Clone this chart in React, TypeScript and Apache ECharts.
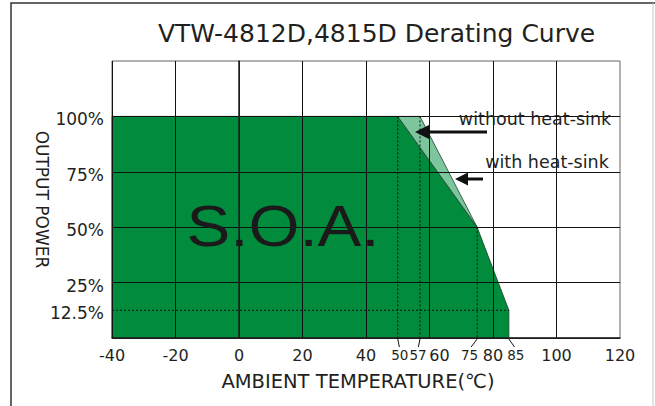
import React, { useEffect, useRef } from "react";
import * as echarts from "echarts";

// ---- data ----
const chartTitle = "VTW-4812D,4815D Derating Curve";
const xName = "AMBIENT TEMPERATURE(℃)";
const yName = "OUTPUT POWER";
const yTickValues = [12.5, 25, 50, 75, 100];
// safe operating area outline (without heat-sink)
const soaTemp = [-40, 50, 75, 85, 85, -40];
const soaPower = [100, 100, 50, 12.5, 0, 0];
// extra area with heat-sink
const sinkTemp = [50, 57, 75];
const sinkPower = [100, 100, 50];
// dotted guide lines
const guideTemps = [50, 57, 75];
const guideTops = [100, 100, 50];
const ratedLevel = 12.5;
const ratedEnd = 85;
// extra (small) x labels
const extraTicks = [50, 57, 75, 85];
const extraShift = [2, -2, -7.5, 7];

const FONT = "DejaVu Sans";
const AFONT = "Liberation Sans";
const INK = "#231f20";
const DARK = "#008c3c";
const LIGHT = "#7cc59d";

export default function App() {
  const ref = useRef<HTMLDivElement>(null);
  useEffect(() => {
    if (!ref.current) return;
    const chart = echarts.init(ref.current, null, { renderer: "svg" });
    const option: any = {
      animation: false,
      title: {
        text: chartTitle,
        left: 153,
        top: 16,
        textStyle: { fontFamily: FONT, fontSize: 25, fontWeight: "normal", color: INK },
      },
      grid: {
        left: 112, top: 61, width: 508, height: 277,
        show: true, borderColor: "#666", borderWidth: 1, backgroundColor: "transparent",
      },
      xAxis: {
        type: "value", min: -40, max: 120, interval: 20, z: 3,
        name: xName, nameLocation: "middle", nameGap: 33, nameMoveOverlap: false,
        nameTextStyle: { fontFamily: FONT, fontSize: 19.5, color: INK, padding: [0, 16, 0, 0] },
        axisLine: { show: true, onZero: false, lineStyle: { color: "#222", width: 1.5 } },
        axisTick: { show: false },
        axisLabel: {
          margin: 9, fontFamily: FONT, fontSize: 16, color: INK,
          formatter: (v: number) => (v === 60 ? "{s|60}" : String(v)),
          rich: { s: { padding: [0, 0, 0, 20], fontFamily: FONT, fontSize: 16, color: INK } },
        },
        splitLine: { show: true, showMaxLine: false, lineStyle: { color: "#111", width: 1 } },
      },
      yAxis: {
        type: "value", min: 0, max: 125, interval: 25, z: 3,
        name: yName, nameLocation: "middle", nameRotate: -90, nameGap: 62, nameMoveOverlap: false,
        nameTextStyle: { fontFamily: FONT, fontSize: 17, color: INK },
        axisLine: { show: true, lineStyle: { color: "#222", width: 1.5 } },
        axisTick: { show: false },
        axisLabel: {
          customValues: yTickValues, margin: 8, color: INK,
          formatter: (v: number) => "{p|" + v + "%}",
          rich: { p: { fontFamily: FONT, fontSize: 17, color: INK, padding: [6, 0, 0, 0] } },
        },
        splitLine: { show: true, showMaxLine: false, lineStyle: { color: "#111", width: 1 } },
      },
      series: [
        {
          type: "custom", z: 2, data: [[0, 0]], silent: true,
          renderItem: (_p: any, api: any) => ({
            type: "group",
            children: [
              {
                type: "polygon",
                shape: { points: soaTemp.map((t, i) => api.coord([t, soaPower[i]])) },
                style: { fill: DARK, stroke: "#1b3d27", lineWidth: 0.8 },
              },
              {
                type: "polygon",
                shape: { points: sinkTemp.map((t, i) => api.coord([t, sinkPower[i]])) },
                style: { fill: LIGHT, stroke: "#1b3d27", lineWidth: 0.8 },
              },
            ],
          }),
        },
        {
          type: "custom", z: 5, data: [[0, 0]], silent: true, clip: false,
          renderItem: (_p: any, api: any) => {
            const children: any[] = [];
            guideTemps.forEach((t, i) => {
              const a = api.coord([t, guideTops[i]]);
              const b = api.coord([t, 0]);
              children.push({
                type: "line",
                shape: { x1: a[0], y1: a[1], x2: b[0], y2: b[1] },
                style: { stroke: "#111", lineWidth: 1, lineDash: [2, 2] },
              });
            });
            const h1 = api.coord([-40, ratedLevel]);
            const h2 = api.coord([ratedEnd, ratedLevel]);
            children.push({
              type: "line",
              shape: { x1: h1[0], y1: h1[1], x2: h2[0], y2: h2[1] },
              style: { stroke: "#111", lineWidth: 1, lineDash: [2, 2] },
            });
            extraTicks.forEach((t, i) => {
              const p = api.coord([t, 0]);
              const lx = p[0] + extraShift[i];
              children.push({
                type: "line",
                shape: { x1: p[0], y1: p[1] + 1, x2: p[0] + extraShift[i] * 0.8, y2: p[1] + 9 },
                style: { stroke: "#111", lineWidth: 1 },
              });
              children.push({
                type: "text",
                x: lx, y: p[1] + 17,
                style: {
                  text: String(t), fontFamily: FONT, fontSize: 13.5, fill: INK,
                  align: "center", verticalAlign: "middle",
                },
              });
            });
            return { type: "group", children };
          },
        },
      ],
      graphic: [
        { type: "polyline", shape: { points: [[11, 406], [11, 3], [655, 3]] }, style: { stroke: "#333", lineWidth: 1.5, fill: null } },
        { type: "line", shape: { x1: 653, y1: 3, x2: 653, y2: 406 }, style: { stroke: "#c8c8c8", lineWidth: 1 } },
        {
          type: "text", x: 283, y: 226, z: 10, scaleX: 1.15,
          style: { text: "S.O.A.", fontFamily: AFONT, fontSize: 57, fill: "#1a1a1a", align: "center", verticalAlign: "middle" },
        },
        {
          type: "text", x: 535, y: 119, z: 10,
          style: { text: "without heat-sink", fontFamily: FONT, fontSize: 17.5, fill: INK, align: "center", verticalAlign: "middle" },
        },
        {
          type: "text", x: 547, y: 162, z: 10,
          style: { text: "with heat-sink", fontFamily: FONT, fontSize: 17.5, fill: INK, align: "center", verticalAlign: "middle" },
        },
        { type: "line", z: 10, shape: { x1: 487, y1: 132, x2: 425, y2: 132 }, style: { stroke: "#111", lineWidth: 3 } },
        { type: "polygon", z: 10, shape: { points: [[415, 132], [429, 125], [429, 139]] }, style: { fill: "#111" } },
        { type: "line", z: 10, shape: { x1: 483, y1: 179, x2: 464, y2: 179 }, style: { stroke: "#111", lineWidth: 3 } },
        { type: "polygon", z: 10, shape: { points: [[455, 179], [468, 172.5], [468, 185.5]] }, style: { fill: "#111" } },
      ],
    };
    chart.setOption(option);
    return () => chart.dispose();
  }, []);
  return (
    <div
      ref={ref}
      style={{ position: "fixed", left: 0, top: 0, width: 655, height: 406, background: "#fff" }}
    />
  );
}
